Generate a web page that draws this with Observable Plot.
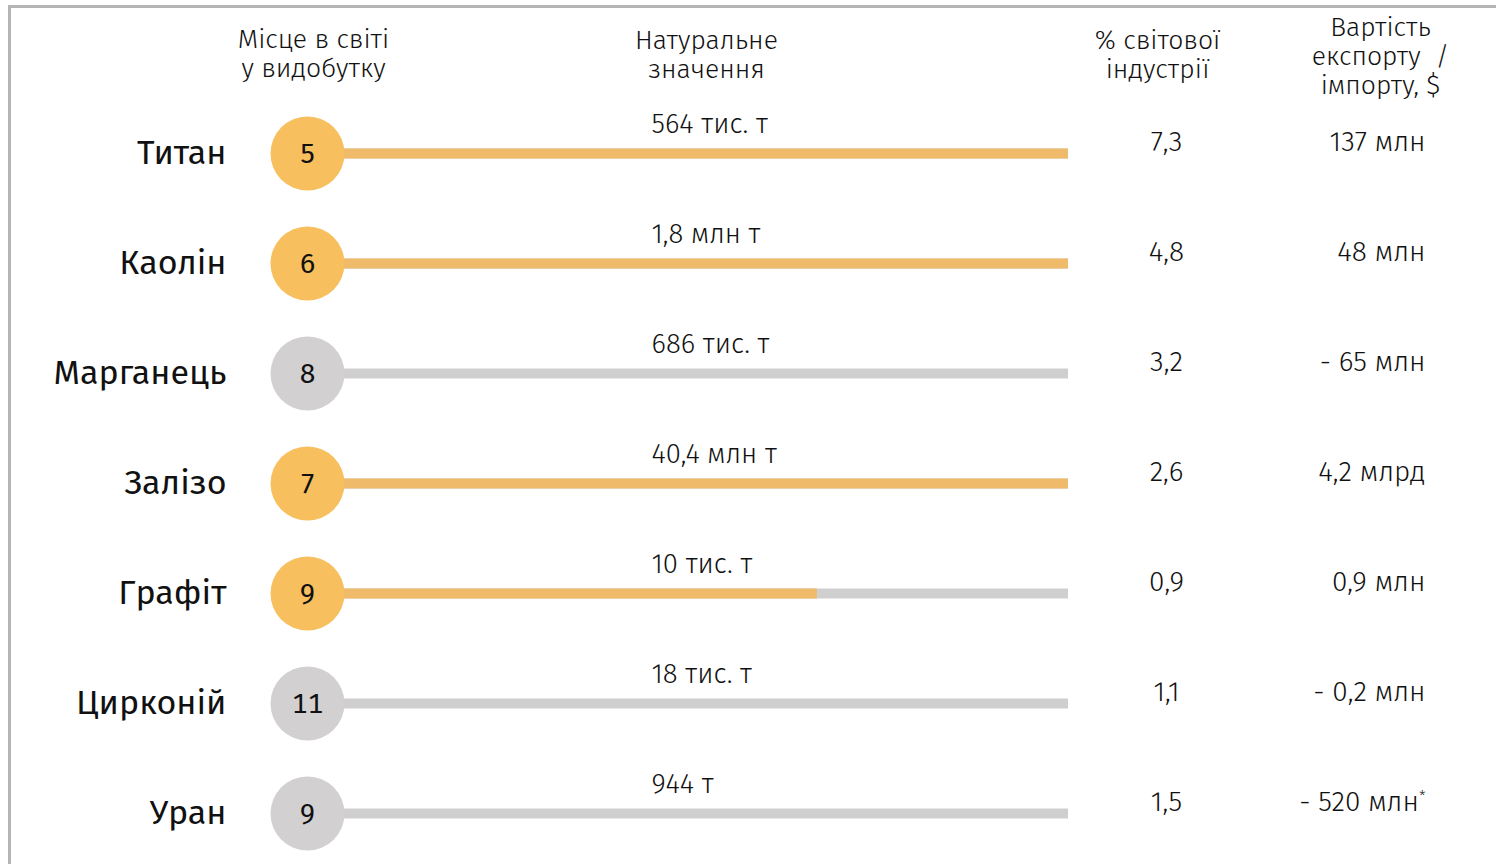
<!DOCTYPE html>
<html><head><meta charset="utf-8">
<script src="https://cdn.jsdelivr.net/npm/d3@7"></script>
<script src="https://cdn.jsdelivr.net/npm/@observablehq/plot@0.6"></script>
<style>
body{margin:0;background:#fff;}
#wrap{position:relative;width:1496px;height:864px;overflow:hidden;}
#frame{position:absolute;left:8px;top:5px;right:-10px;bottom:-10px;border-top:3px solid #b5b5b5;border-left:3px solid #b5b5b5;pointer-events:none;}
svg{display:block;}
</style></head><body><div id="wrap"><div id="frame"></div></div>
<script>
// ---- data ----
const minerals = ["Титан", "Каолін", "Марганець", "Залізо", "Графіт", "Цирконій", "Уран"];
const ranks = [5, 6, 8, 7, 9, 11, 9];
const naturalValues = ["564 тис. т", "1,8 млн т", "686 тис. т", "40,4 млн т", "10 тис. т", "18 тис. т", "944 т"];
const worldShare = ["7,3", "4,8", "3,2", "2,6", "0,9", "1,1", "1,5"];
const tradeValues = ["137 млн", "48 млн", "- 65 млн", "4,2 млрд", "0,9 млн", "- 0,2 млн", "- 520 млн*"];
const highlighted = [true, true, false, true, true, false, false];
const barShare = [1, 1, 0, 1, 0.67, 0, 0];
const headerRank = "Місце в світі\nу видобутку";
const headerNatural = "Натуральне\nзначення";
const headerShare = "% світової\nіндустрії";
const headerTrade = "Вартість\nекспорту  /\nімпорту, $";

// ---- styles ----
const ORANGE = "#f7bf5e", ORANGE_BAR = "#efba69", GRAY = "#d2d0d1", GRAY_BAR = "#d0cfd0", INK = "#111111";
const FONT = "'Fira Sans', 'Noto Sans', 'Open Sans', sans-serif";
const LIGHT = "'Fira Sans', 'Noto Sans', sans-serif";

const rows = minerals.map((m, i) => ({
  mineral: m, rank: ranks[i], natural: naturalValues[i], share: worldShare[i],
  trade: tradeValues[i], hi: highlighted[i], bar: barShare[i]
}));

const header = (text, dx, dy) => Plot.text([text], {
  text: d => d, frameAnchor: "top-left", dx, dy, textAnchor: "middle", lineAnchor: "middle",
  fontSize: 26.5, lineHeight: 1.1, fill: INK, fontFamily: LIGHT, fontWeight: 300
});

const chart = Plot.plot({
  width: 1496, height: 864,
  marginLeft: 0, marginRight: 0, marginTop: 0, marginBottom: 0,
  style: {fontFamily: FONT, background: "transparent", color: INK},
  x: {domain: [0, 1], range: [307, 1068], axis: null},
  y: {type: "point", domain: minerals, range: [151, 815], padding: 0, axis: null},
  marks: [
    header(headerRank, 313, 53),
    header(headerNatural, 706, 54),
    header(headerShare, 1157, 54),
    header(headerTrade, 1380, 55),
    Plot.ruleY(rows, {y: "mineral", x1: 0, x2: 1, stroke: GRAY_BAR, strokeWidth: 10}),
    Plot.ruleY(rows.filter(d => d.bar > 0), {y: "mineral", x1: 0, x2: "bar", stroke: ORANGE_BAR, strokeWidth: 10}),
    Plot.dot(rows, {x: 0, y: "mineral", r: 37, fill: d => d.hi ? ORANGE : GRAY, stroke: "none"}),
    Plot.text(rows, {x: 0, y: "mineral", text: "rank", fontSize: 28, fill: INK, dy: 1}),
    Plot.text(rows, {y: "mineral", text: "mineral", frameAnchor: "left", dx: 226, textAnchor: "end", fontSize: 34, fill: INK}),
    Plot.text(rows, {y: "mineral", text: "natural", frameAnchor: "left", dx: 651, textAnchor: "start", fontSize: 27.5, dy: -29, fill: INK, fontFamily: LIGHT, fontWeight: 300}),
    Plot.text(rows, {y: "mineral", text: "share", frameAnchor: "left", dx: 1166, textAnchor: "middle", fontSize: 28, dy: -11, fill: INK, fontFamily: LIGHT, fontWeight: 300}),
    Plot.text(rows, {y: "mineral", text: "trade", frameAnchor: "left", dx: 1425, textAnchor: "end", fontSize: 28, dy: -11, fill: INK, fontFamily: LIGHT, fontWeight: 300})
  ]
});

// superscript asterisk
d3.select(chart).selectAll("text").each(function() {
  const t = this.textContent;
  if (this.childElementCount === 0 && t.endsWith("*")) {
    this.textContent = t.slice(0, -1);
    d3.select(this).append("tspan").attr("font-size", 15).attr("dy", "-0.7em").text("*");
  }
});

document.getElementById("wrap").prepend(chart);
</script>
</body></html>
